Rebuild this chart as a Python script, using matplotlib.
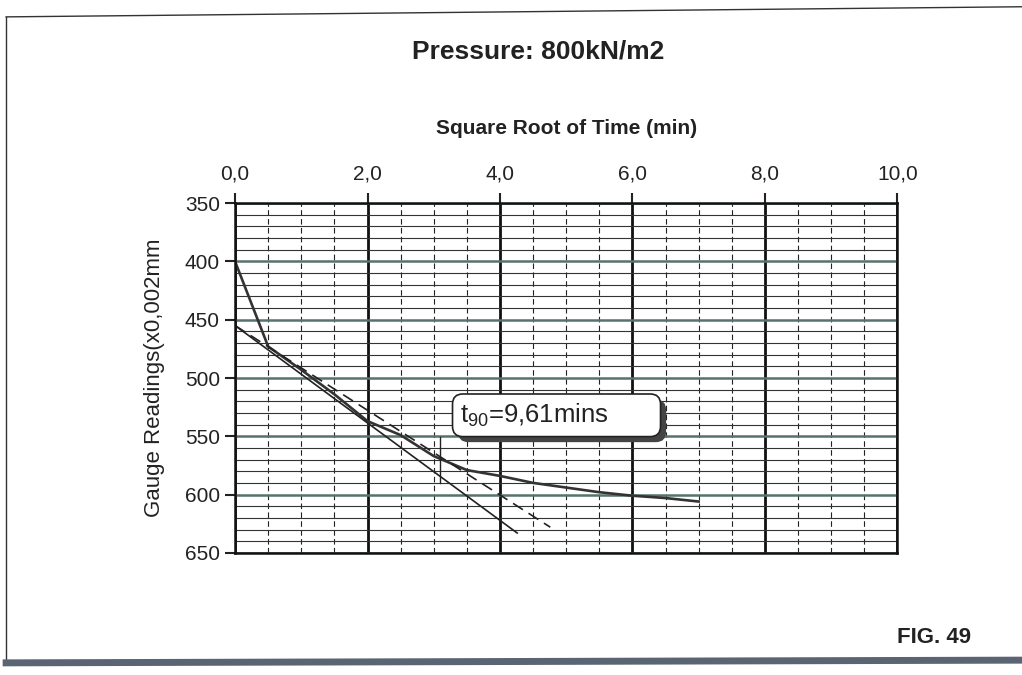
import matplotlib
matplotlib.use("Agg")
import matplotlib.pyplot as plt
import matplotlib.patheffects as pe
from matplotlib.ticker import FuncFormatter, MultipleLocator

plt.rcParams['font.family'] = ['Liberation Sans', 'DejaVu Sans']
plt.rcParams['mathtext.fontset'] = 'custom'
plt.rcParams['mathtext.rm'] = 'Liberation Sans'
plt.rcParams['mathtext.it'] = 'Liberation Sans'

# square root of time (min) and gauge readings (x0,002mm)
sqrt_time = [0.0, 0.5, 1.0, 1.5, 2.0, 2.5, 3.0, 3.5, 4.0, 4.5, 5.0, 5.5, 6.0, 6.5, 7.0]
readings = [400, 473, 493, 514, 537, 549, 567, 579, 584, 590, 594, 598, 601, 603, 606]

# straight-line fit of the early part, and the same line with x * 1.15
fit_x = [0.0, 4.26]
fit_y = [455, 633]
fit115_x = [0.0, 4.76]
fit115_y = [455, 628]

# sqrt(t90) marker
t90_x = [3.1, 3.1]
t90_y = [551, 590]

x_ticks = [0, 2, 4, 6, 8, 10]
y_ticks = [350, 400, 450, 500, 550, 600, 650]

fig = plt.figure(figsize=(10.22, 6.75), dpi=100)
ax = fig.add_axes([0.230, 0.181, 0.648, 0.518])

# grid
ax.xaxis.set_minor_locator(MultipleLocator(0.5))
ax.yaxis.set_minor_locator(MultipleLocator(10))
ax.grid(True, which='minor', axis='x', color='#222222', linestyle=(0, (5, 3)), linewidth=0.8)
ax.grid(True, which='minor', axis='y', color='#333333', linestyle='-', linewidth=0.8)
ax.grid(True, which='major', axis='x', color='#111111', linestyle='-', linewidth=2.0)
ax.grid(True, which='major', axis='y', color='#56736f', linestyle='-', linewidth=1.8)
ax.set_axisbelow(True)

ax.plot(sqrt_time, readings, color='#333333', linewidth=1.9)
ax.plot(fit_x, fit_y, color='#222222', linewidth=1.2)
ax.plot(fit115_x, fit115_y, color='#222222', linewidth=1.2, linestyle=(0, (7, 4)))
ax.plot(t90_x, t90_y, color='#222222', linewidth=1.0)

ax.set_xlim(0, 10)
ax.set_ylim(650, 350)
ax.set_xticks(x_ticks)
ax.set_yticks(y_ticks)
ax.xaxis.set_major_formatter(FuncFormatter(lambda v, p: f"{v:.1f}".replace('.', ',')))
ax.xaxis.tick_top()
ax.xaxis.set_label_position('top')
ax.tick_params(axis='both', which='major', labelsize=15, length=7, width=1.5,
               direction='out', colors='#222222', labelcolor='#222222', pad=4)
ax.tick_params(axis='x', which='major', pad=7)
ax.tick_params(axis='both', which='minor', length=0)
for s in ax.spines.values():
    s.set_linewidth(1.8)
    s.set_color('#111111')

ax.set_xlabel("Square Root of Time (min)", fontsize=15, fontweight='bold',
              color='#222222', labelpad=22)
ax.set_ylabel("Gauge Readings(x0,002mm", fontsize=16, color='#222222', labelpad=14)

# t90 annotation box with drop shadow
label = r"t$_{90}$=9,61mins       "
t90_txt = ax.text(3.40, 532, label, fontsize=18.5, color='#222222', va='center', ha='left',
                  bbox=dict(boxstyle='round,pad=0.3,rounding_size=0.4', facecolor='white',
                            edgecolor='#222222', linewidth=1.2))
t90_txt.get_bbox_patch().set_path_effects([
    pe.SimplePatchShadow(offset=(4, -4), shadow_rgbFace='#444444', alpha=1.0),
    pe.Normal()])

fig.text(0.527, 0.924, "Pressure: 800kN/m2", fontsize=19, fontweight='bold',
         color='#222222', ha='center', va='center')
fig.text(0.95, 0.056, "FIG. 49", fontsize=16, fontweight='bold',
         color='#222222', ha='right', va='center')

# page frame of the scan
fig.add_artist(plt.Line2D([0.006, 0.006], [0.02, 0.975], color='#333333', linewidth=1.0))
fig.add_artist(plt.Line2D([0.006, 1.0], [0.975, 0.99], color='#333333', linewidth=1.0))
fig.add_artist(plt.Line2D([0.006, 1.0], [0.018, 0.022], color='#5a6472', linewidth=5))

fig.savefig("out.png", dpi=100)
